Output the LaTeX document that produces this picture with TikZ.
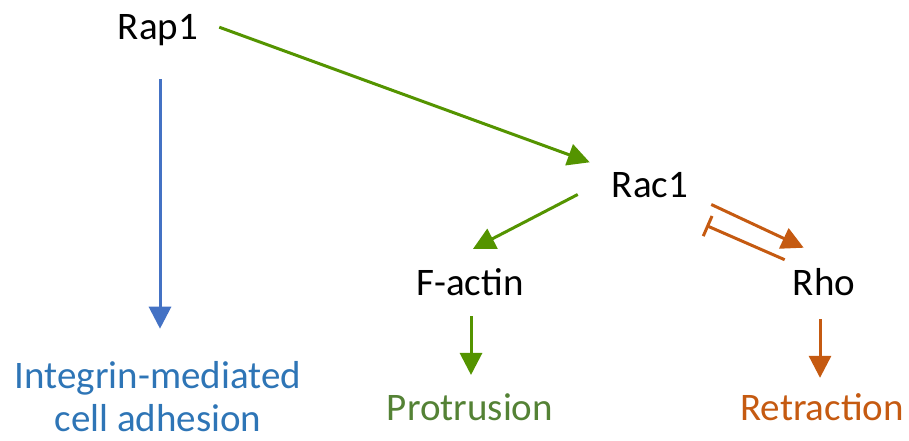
\documentclass[tikz,border=0pt]{standalone}
\usepackage{fontspec}
\setmainfont{Carlito}
\usetikzlibrary{arrows.meta}
\definecolor{actgreen}{RGB}{84,148,0}
\definecolor{txtgreen}{RGB}{84,130,53}
\definecolor{arrblue}{RGB}{68,114,196}
\definecolor{txtblue}{RGB}{46,117,182}
\definecolor{rhoorange}{RGB}{197,90,17}
\begin{document}
\begin{tikzpicture}[x=1pt,y=-1pt,
	lbl/.style={anchor=base,inner sep=0pt,font=\fontsize{39}{46}\selectfont},
	act/.style={line width=3pt,-{Triangle[length=22pt,width=22pt]}},
	inh/.style={line width=3pt,-{Bar[width=22pt,line width=3pt]}}]
	\useasboundingbox (0,0) rectangle (909,441);
	
	%PROTEINS
	\node[lbl] (rap1) at (158,40) {Rap1};
	\node[lbl] (rac1) at (650,197) {Rac1};
	\node[lbl] (factin) at (470,295) {F-actin};
	\node[lbl] (rho) at (824,295) {Rho};
	
	%OUTCOMES
	\node[lbl,txtblue,align=center,text depth=0pt,font=\fontsize{39}{43}\selectfont] (integ) at (158,431) {Integrin-mediated\\cell adhesion};	%base = last line
	\node[lbl,txtgreen] (protr) at (470,420) {Protrusion};
	\node[lbl,rhoorange] (retr) at (822,420) {Retraction};
	
	%ARROWS
	\draw[act,actgreen] ([shift={(21,-3.4)}]rap1.east) -- ([shift={(-22,-9.4)}]rac1.north west);	%Rap1 to Rac1
	\draw[act,arrblue] ([shift={(2,33)}]rap1.south) -- ([shift={(2,-32)}]integ.north);	%adhesion
	\draw[act,actgreen] ([shift={(-34,-3)}]rac1.south west) -- ([shift={(3,-19)}]factin.north);	%Rac1 to F-actin
	\draw[act,actgreen] ([shift={(1,21)}]factin.south) -- ([shift={(1,-18)}]protr.north);	%protrusion
	\draw[act,rhoorange] ([shift={(23,7)}]rac1.south east) -- ([shift={(11,-20)}]rho.north west);	%Rac1 to Rho
	\draw[inh,rhoorange] ([shift={(-8,-8)}]rho.north west) -- ([shift={(18,28)}]rac1.south east);	%Rho blocks Rac1
	\draw[act,rhoorange] ([shift={(-4,24)}]rho.south) -- ([shift={(-2,-15)}]retr.north);	%retraction
\end{tikzpicture}
\end{document}
